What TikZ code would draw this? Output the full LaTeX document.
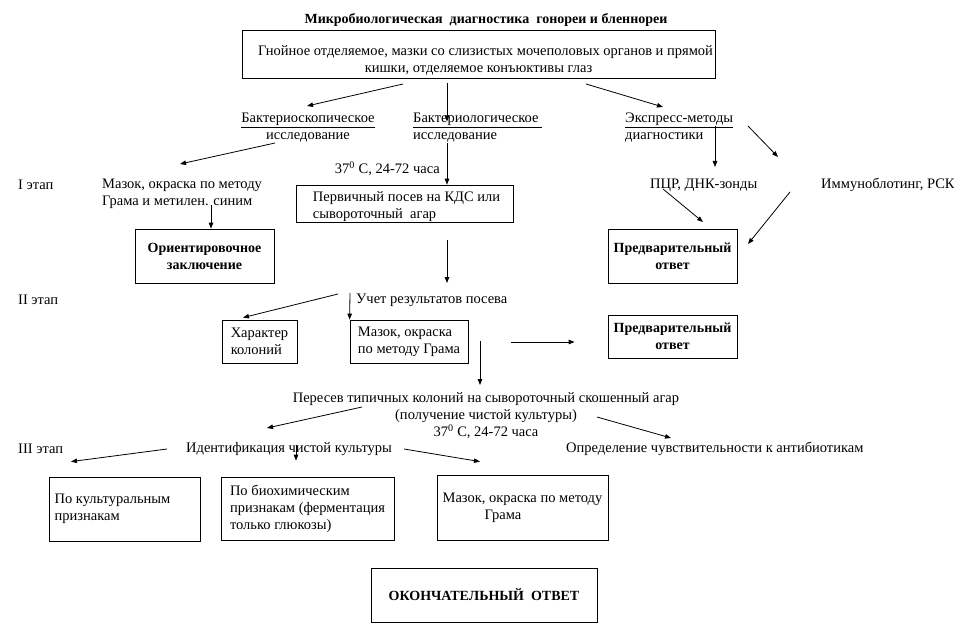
\documentclass[tikz,border=0pt]{standalone}
\usepackage{fontspec}
\setmainfont{Liberation Serif}
\usepackage{tikz}
\usetikzlibrary{
    calc,
    positioning,
    arrows.meta
}
\tikzset{
    line/.style = {
        line width = 0.8pt,
        -{Triangle[length=6pt, width=4.5pt]}
    },
    arrow/.style = {
        line
    },
    % Plain text:
    text node/.style = {
        inner sep = 0pt,
        font = \fontsize{14.5}{17}\selectfont
    },
    plain node/.style = {
        text node,
        yshift = -2pt
    },
    % Framed text:
    box node/.style = {
        text node,
        draw,
        line width = 0.8pt,
        rectangle
    },
    % Framed result:
    answer node/.style = {
        box node,
        align = center,
        font = \fontsize{14}{17}\selectfont\bfseries
    }
}

\begin{document}
\begin{tikzpicture}[x=1pt, y=-1pt]
    \useasboundingbox (0, 0) rectangle (966, 631);
    \node [plain node, font=\fontsize{14}{16}\selectfont\bfseries] (title) at (486, 18)
        {Микробиологическая\ \ диагностика\ \ гонореи и бленнореи};
    \node [box node, align=center, minimum width=473pt, minimum height=48pt] (source) at (478.5, 54)
        {\rule{0pt}{22pt}\hspace*{14pt}Гнойное отделяемое,\ мазки со слизистых мочеполовых органов и прямой\\кишки, отделяемое конъюктивы глаз};
    % I stage
    \node [plain node, align=center] (scopy) at (308, 125.5)
        {\underline{Бактериоскопическое}\\исследование};
    \node [plain node, align=left, anchor=west] (logy) at (413, 125.5)
        {\underline{Бактериологическое\ }\\исследование};
    \node [plain node, align=left, anchor=west] (express) at (625, 125.5)
        {\underline{Экспресс-методы}\\диагностики};
    \node [plain node, anchor=east] (temp1) at (440, 167) {37\textsuperscript{0} С, 24-72 часа};
    \node [plain node, anchor=west] (stage1) at (18, 183) {I этап};
    \node [plain node, align=left, anchor=west] (smear1) at (102, 191.5)
        {Мазок, окраска по методу\\Грама и метилен. синим};
    \node [box node, align=left, minimum width=217pt, minimum height=37pt] (primary) at (404.5, 203.5)
        {\rule{0pt}{16pt}\hspace*{4pt}Первичный посев на КДС или\\\hspace*{4pt}сывороточный\ \ агар};
    \node [plain node, anchor=west] (pcr) at (650, 183) {ПЦР, ДНК-зонды};
    \node [plain node, anchor=west] (immuno) at (821, 183) {Иммуноблотинг, РСК};
    \node [answer node, minimum width=139pt, minimum height=54pt] (orient) at (204.5, 256)
        {Ориентировочное\\заключение};
    \node [answer node, minimum width=129pt, minimum height=54pt] (prelim1) at (672.5, 256)
        {Предварительный\\ответ};
    % II stage
    \node [plain node, anchor=west] (stage2) at (18, 298) {II этап};
    \node [plain node, anchor=west] (count) at (356, 298) {Учет результатов посева};
    \node [box node, align=left, minimum width=75pt, minimum height=43pt] (colony) at (259.5, 341.5)
        {Характер\\колоний};
    \node [box node, align=left, minimum width=118pt, minimum height=43pt] (smear2) at (409, 341.5)
        {Мазок, окраска\\по методу Грама};
    \node [answer node, minimum width=129pt, minimum height=43pt] (prelim2) at (672.5, 336.5)
        {Предварительный\\ответ};
    \node [plain node, align=center] (reseed) at (486, 413.5)
        {Пересев типичных колоний на сывороточный скошенный агар\\(получение чистой культуры)\\37\textsuperscript{0} С, 24-72 часа};
    % III stage
    \node [plain node, anchor=west] (stage3) at (18, 447) {III этап};
    \node [plain node, anchor=west] (ident) at (186, 447) {Идентификация чистой культуры};
    \node [plain node, anchor=west] (sens) at (566, 447) {Определение чувствительности к антибиотикам};
    \node [box node, align=left, minimum width=151pt, minimum height=64pt] (cult) at (124.5, 509)
        {По культуральным\hspace*{24pt}\\признакам};
    \node [box node, align=left, minimum width=173pt, minimum height=63pt] (biochem) at (307.5, 508.5)
        {По биохимическим\\признакам (ферментация\\только глюкозы)};
    \node [box node, align=left, minimum width=171pt, minimum height=65pt] (smear3) at (522.5, 507.5)
        {Мазок, окраска по методу\\\hspace*{42pt}Грама};
    \node [answer node, minimum width=226pt, minimum height=54pt] (final) at (484, 595)
        {ОКОНЧАТЕЛЬНЫЙ\ \ ОТВЕТ};
    % Connectors
    \draw [arrow] ($(source)+(-75.5,30)$) -- ($(scopy)+(-1,-21.5)$);
    \draw [arrow] ($(source)+(-31.5,29)$) -- ($(logy.west)+(34,-6)$);
    \draw [arrow] ($(source)+(107.5,30)$) -- ($(express.west)+(38,-20.5)$);
    \draw [arrow] ($(scopy)+(-33,15.5)$) -- ($(smear1.west)+(78,-29.5)$);
    \draw [arrow] ($(logy.west)+(34,15.5)$) -- ($(primary.north)+(42.5,0)$);
    \draw [arrow] ($(express.west)+(90,-1.5)$) -- ($(pcr.west)+(65,-18)$);
    \draw [arrow] ($(express.west)+(123,-1.5)$) -- ($(immuno.west)+(-43,-28)$);
    \draw [arrow] ($(pcr.west)+(13,4)$) -- ($(prelim1)+(30.5,-34)$);
    \draw [arrow] ($(immuno.west)+(-31,7)$) -- ($(prelim1)+(75.5,-12)$);
    \draw [arrow] ($(smear1.west)+(109,11.5)$) -- ($(orient.north)+(6.5,0)$);
    \draw [arrow] ($(primary.south)+(42.5,18)$) -- ($(count.west)+(91,-17)$);
    \draw [arrow] ($(count.west)+(-18,-6)$) -- ($(colony.north)+(-16.5,-2)$);
    \draw [arrow] ($(count.west)+(-6,-7)$) -- (smear2.north west);
    \draw [arrow] ($(smear2)+(71,-0.5)$) -- ($(reseed)+(-6,-30.5)$);
    \draw [arrow] ($(smear2)+(102,0.5)$) -- ($(prelim2.west)+(-33,5.5)$);
    \draw [arrow] ($(reseed)+(-124,-8.5)$) -- ($(ident.west)+(81,-21)$);
    \draw [arrow] ($(reseed)+(111,1.5)$) -- ($(sens.west)+(105,-11)$);
    \draw [arrow] ($(ident.west)+(-19,0)$) -- ($(cult.north)+(-53.5,-15)$);
    \draw [arrow] ($(ident.west)+(110,-4)$) -- ($(biochem.north)+(-11.5,-16)$);
    \draw [arrow] ($(ident.west)+(218,0)$) -- ($(smear3.north)+(-42.5,-13)$);
\end{tikzpicture}
\end{document}
